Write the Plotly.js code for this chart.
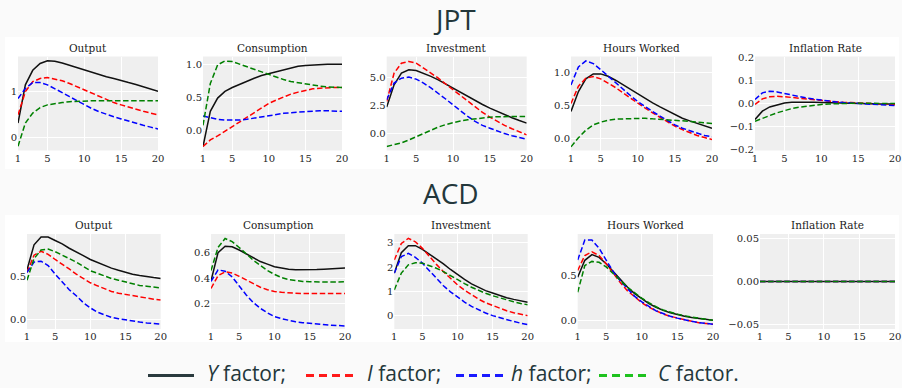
<!DOCTYPE html>
<html><head><meta charset="utf-8">
<script src="https://cdn.plot.ly/plotly-3.0.1.min.js"></script>
<style>html,body{margin:0;padding:0;background:#fafafa}</style>
</head><body>
<div id="chart" style="width:902px;height:388px"></div>
<script>
const periods = [1,2,3,4,5,6,7,8,9,10,11,12,13,14,15,16,17,18,19,20];
const panelTitles = ['Output','Consumption','Investment','Hours Worked','Inflation Rate'];
const rowTitles = ['JPT','ACD'];
const factorNames = ['<i>Y</i> factor;','<i>I</i> factor;','<i>h</i> factor;','<i>C</i> factor.'];

// ---- JPT ----
const jptOutputY = [0.31,1.15,1.47,1.62,1.68,1.67,1.63,1.58,1.53,1.47,1.42,1.37,1.33,1.29,1.24,1.20,1.16,1.11,1.06,1.01];
const jptOutputI = [0.49,1.00,1.22,1.29,1.31,1.28,1.24,1.18,1.11,1.04,0.96,0.89,0.82,0.76,0.71,0.66,0.61,0.57,0.53,0.49];
const jptOutputH = [0.85,1.07,1.20,1.20,1.15,1.07,0.98,0.89,0.80,0.71,0.63,0.56,0.50,0.45,0.40,0.35,0.30,0.26,0.22,0.18];
const jptOutputC = [-0.20,0.31,0.53,0.65,0.71,0.74,0.76,0.78,0.79,0.79,0.80,0.80,0.80,0.80,0.80,0.80,0.80,0.80,0.80,0.80];

const jptConsY = [-0.24,0.29,0.49,0.59,0.65,0.70,0.75,0.79,0.83,0.86,0.89,0.92,0.95,0.97,0.98,0.99,1.00,1.00,1.00,1.00];
const jptConsI = [-0.24,-0.14,-0.08,-0.01,0.06,0.13,0.21,0.28,0.35,0.41,0.46,0.51,0.55,0.58,0.61,0.63,0.64,0.65,0.65,0.65];
const jptConsH = [0.22,0.19,0.17,0.16,0.155,0.16,0.17,0.19,0.20,0.22,0.24,0.26,0.27,0.28,0.29,0.30,0.30,0.30,0.29,0.29];
const jptConsC = [0.08,0.71,0.99,1.05,1.04,1.00,0.96,0.92,0.88,0.84,0.80,0.77,0.74,0.72,0.70,0.68,0.67,0.66,0.66,0.65];

const jptInvY = [2.37,4.35,5.38,5.68,5.62,5.38,5.10,4.79,4.42,4.05,3.68,3.31,2.95,2.60,2.28,1.98,1.70,1.43,1.18,0.95];
const jptInvI = [2.87,5.38,6.27,6.42,6.27,5.83,5.40,4.94,4.42,3.90,3.38,2.87,2.38,1.90,1.48,1.10,0.75,0.45,0.17,-0.09];
const jptInvH = [3.02,4.50,4.94,5.03,4.85,4.50,4.07,3.60,3.09,2.57,2.05,1.54,1.10,0.75,0.50,0.25,0.02,-0.17,-0.33,-0.47];
const jptInvC = [-1.12,-0.98,-0.80,-0.55,-0.27,0.05,0.35,0.60,0.82,1.00,1.14,1.25,1.34,1.42,1.48,1.52,1.54,1.55,1.55,1.54];

const jptHoursY = [0.41,0.71,0.90,0.975,0.975,0.94,0.88,0.81,0.745,0.68,0.61,0.54,0.48,0.42,0.36,0.31,0.27,0.23,0.19,0.16];
const jptHoursI = [0.53,0.79,0.91,0.935,0.90,0.84,0.77,0.69,0.61,0.54,0.46,0.39,0.32,0.25,0.19,0.14,0.09,0.05,0.02,-0.01];
const jptHoursH = [0.81,1.08,1.17,1.13,1.04,0.94,0.84,0.74,0.65,0.56,0.48,0.41,0.34,0.27,0.21,0.16,0.12,0.08,0.05,0.03];
const jptHoursC = [-0.12,0.015,0.13,0.21,0.25,0.28,0.295,0.30,0.31,0.31,0.31,0.30,0.295,0.29,0.28,0.27,0.26,0.25,0.24,0.23];

const jptInflY = [-0.069,-0.033,-0.015,-0.005,0.002,0.005,0.006,0.006,0.005,0.004,0.003,0.002,0.001,0.0,0.0,-0.001,-0.001,-0.002,-0.002,-0.002];
const jptInflI = [-0.004,0.020,0.029,0.031,0.029,0.026,0.021,0.017,0.015,0.013,0.010,0.007,0.005,0.004,0.003,0.001,-0.001,-0.003,-0.004,-0.005];
const jptInflH = [0.017,0.046,0.053,0.050,0.043,0.036,0.030,0.024,0.019,0.014,0.010,0.007,0.004,0.002,0.0,-0.002,-0.004,-0.006,-0.008,-0.009];
const jptInflC = [-0.077,-0.066,-0.052,-0.040,-0.030,-0.022,-0.016,-0.011,-0.007,-0.004,-0.002,0.0,0.001,0.001,0.001,0.001,0.0,0.0,0.0,0.0];

// ---- ACD ----
const acdOutputY = [0.58,0.87,0.96,0.96,0.92,0.88,0.83,0.79,0.745,0.70,0.665,0.63,0.60,0.575,0.55,0.53,0.515,0.50,0.49,0.48];
const acdOutputI = [0.55,0.75,0.795,0.76,0.70,0.65,0.59,0.53,0.48,0.43,0.395,0.36,0.33,0.31,0.295,0.28,0.265,0.25,0.24,0.23];
const acdOutputH = [0.55,0.67,0.68,0.63,0.53,0.44,0.35,0.28,0.20,0.14,0.09,0.06,0.03,0.015,0.0,-0.015,-0.025,-0.035,-0.045,-0.05];
const acdOutputC = [0.46,0.71,0.81,0.82,0.79,0.75,0.71,0.67,0.62,0.57,0.54,0.51,0.48,0.46,0.44,0.42,0.40,0.39,0.38,0.37];

const acdConsY = [0.38,0.60,0.65,0.645,0.62,0.59,0.56,0.53,0.51,0.49,0.48,0.47,0.467,0.466,0.467,0.469,0.471,0.474,0.477,0.48];
const acdConsI = [0.32,0.42,0.45,0.44,0.415,0.385,0.355,0.33,0.31,0.297,0.29,0.285,0.282,0.28,0.28,0.28,0.28,0.28,0.28,0.28];
const acdConsH = [0.375,0.465,0.455,0.41,0.34,0.27,0.21,0.165,0.13,0.10,0.085,0.07,0.06,0.053,0.047,0.042,0.038,0.034,0.031,0.028];
const acdConsC = [0.46,0.64,0.71,0.685,0.64,0.59,0.54,0.50,0.46,0.43,0.405,0.39,0.38,0.375,0.372,0.37,0.37,0.37,0.37,0.372];

const acdInvY = [1.75,2.59,2.88,2.88,2.73,2.54,2.33,2.13,1.90,1.68,1.49,1.31,1.16,1.03,0.93,0.83,0.74,0.67,0.60,0.55];
const acdInvI = [2.29,2.97,3.18,3.04,2.77,2.43,2.11,1.81,1.53,1.27,1.05,0.86,0.68,0.53,0.41,0.30,0.20,0.12,0.05,0.0];
const acdInvH = [1.75,2.43,2.56,2.40,2.16,1.85,1.53,1.23,0.98,0.76,0.56,0.38,0.24,0.11,0.0,-0.09,-0.17,-0.24,-0.31,-0.37];
const acdInvC = [1.06,1.75,2.09,2.18,2.16,2.06,1.95,1.81,1.64,1.47,1.32,1.17,1.04,0.92,0.82,0.73,0.64,0.57,0.50,0.45];

const acdHoursY = [0.48,0.667,0.73,0.70,0.63,0.54,0.45,0.37,0.30,0.24,0.19,0.15,0.115,0.09,0.067,0.05,0.036,0.025,0.015,0.007];
const acdHoursI = [0.555,0.72,0.76,0.72,0.63,0.52,0.42,0.33,0.26,0.20,0.15,0.11,0.075,0.05,0.03,0.01,-0.005,-0.02,-0.03,-0.037];
const acdHoursH = [0.67,0.89,0.89,0.80,0.67,0.54,0.44,0.35,0.27,0.21,0.155,0.11,0.08,0.05,0.03,0.01,-0.005,-0.02,-0.03,-0.037];
const acdHoursC = [0.315,0.61,0.655,0.645,0.595,0.525,0.445,0.37,0.305,0.25,0.20,0.155,0.12,0.095,0.074,0.055,0.04,0.028,0.017,0.007];

const acdInflY = [0,0,0,0,0,0,0,0,0,0,0,0,0,0,0,0,0,0,0,0];
const acdInflI = [0,0,0,0,0,0,0,0,0,0,0,0,0,0,0,0,0,0,0,0];
const acdInflH = [0,0,0,0,0,0,0,0,0,0,0,0,0,0,0,0,0,0,0,0];
const acdInflC = [0,0,0,0,0,0,0,0,0,0,0,0,0,0,0,0,0,0,0,0];

const xTicks = [1,5,10,15,20];

// axis settings per panel (range, ticks)
const panels = [
  {s:[jptOutputY,jptOutputI,jptOutputH,jptOutputC], yr:[-0.294,1.774], yt:[0,1], ytt:['0','1']},
  {s:[jptConsY,jptConsI,jptConsH,jptConsC], yr:[-0.30,1.117], yt:[0,0.5,1], ytt:['0.0','0.5','1.0']},
  {s:[jptInvY,jptInvI,jptInvH,jptInvC], yr:[-1.48,6.86], yt:[0,2.5,5], ytt:['0.0','2.5','5.0']},
  {s:[jptHoursY,jptHoursI,jptHoursH,jptHoursC], yr:[-0.175,1.236], yt:[0,0.5,1], ytt:['0.0','0.5','1.0']},
  {s:[jptInflY,jptInflI,jptInflH,jptInflC], yr:[-0.203,0.203], yt:[-0.2,-0.1,0,0.1,0.2], ytt:['\u22120.2','\u22120.1','0.0','0.1','0.2']},
  {s:[acdOutputY,acdOutputI,acdOutputH,acdOutputC], yr:[-0.105,0.995], yt:[0,0.5], ytt:['0.0','0.5']},
  {s:[acdConsY,acdConsI,acdConsH,acdConsC], yr:[0.004,0.745], yt:[0.2,0.4,0.6], ytt:['0.2','0.4','0.6']},
  {s:[acdInvY,acdInvI,acdInvH,acdInvC], yr:[-0.55,3.36], yt:[0,1,2,3], ytt:['0','1','2','3']},
  {s:[acdHoursY,acdHoursI,acdHoursH,acdHoursC], yr:[-0.09,0.957], yt:[0,0.5], ytt:['0.0','0.5']},
  {s:[acdInflY,acdInflI,acdInflH,acdInflC], yr:[-0.055,0.055], yt:[-0.05,0,0.05], ytt:['\u22120.05','0.00','0.05']}
];

// pixel boxes of each subplot (layout)
const W = 902, H = 388;
const xBoxes = [[18,158],[203,342],[386.7,526.7],[571,712],[755,895],
                [27,160.7],[211,345],[394.3,527.7],[577.7,713],[760,895]];
const yBoxes = [[56.5,150.5],[234,329]];

const lineColors = ['#111111','#ff0000','#0000ff','#008000'];
const lineDash = ['solid','5.5px,2.6px','5.5px,2.6px','5.5px,2.6px'];
const legendColors = ['#2a3a3e','#ff1a1a','#1a1aff','#1ec21e'];
const legendDash = ['solid','8px,5px','8px,5px','8px,5px'];
// legend layout (pixel positions of key lines and labels)
const legendKeys = [[148,194],[306,354],[456,503],[599,646]];
const legendTextX = [206,366,510,657];
const legendKeyY = 375.5;
const legendTextY = 372.5;

const traces = [];
const layout = {
  width: W, height: H,
  margin: {l:0,r:0,t:0,b:0},
  paper_bgcolor: '#ffffff',
  plot_bgcolor: '#efefef',
  showlegend: false,
  annotations: [],
  shapes: []
};

const tickFont = {family:'DejaVu Serif, serif', size:10, color:'#262626'};

panels.forEach((p, i) => {
  const n = i + 1;
  const xa = 'xaxis' + (n===1 ? '' : n), ya = 'yaxis' + (n===1 ? '' : n);
  const xr = 'x' + (n===1 ? '' : n), yr = 'y' + (n===1 ? '' : n);
  const row = i < 5 ? 0 : 1;
  const xb = xBoxes[i], yb = yBoxes[row];
  layout[xa] = {domain:[xb[0]/W, xb[1]/W], anchor: yr, range:[1,20], tickvals:xTicks,
    ticktext: xTicks.map(String), showgrid:true, gridcolor:'#ffffff', gridwidth:1,
    zeroline:false, showline:false, ticks:'', tickfont:tickFont, fixedrange:true};
  layout[ya] = {domain:[1-yb[1]/H, 1-yb[0]/H], anchor: xr, range:p.yr, tickvals:p.yt,
    ticktext:p.ytt, showgrid:true, gridcolor:'#ffffff', gridwidth:1,
    zeroline:false, showline:false, ticks:'', tickfont:tickFont, fixedrange:true};
  p.s.forEach((ys, k) => {
    traces.push({x:periods, y:ys, xaxis:xr, yaxis:yr, type:'scatter', mode:'lines',
      name: factorNames[k], line:{color:lineColors[k], width:1.5, dash:lineDash[k]},
      showlegend:false, hoverinfo:'skip'});
  });
  layout.annotations.push({text: panelTitles[i % 5], xref: xr + ' domain', yref: yr + ' domain',
    x:0.5, y:1, xanchor:'center', yanchor:'bottom', yshift:1, showarrow:false,
    font:{family:'DejaVu Serif, serif', size:10.5, color:'#1a1a1a'}});
});

// legend: key lines + labels
factorNames.forEach((name, k) => {
  layout.shapes.push({type:'line', xref:'paper', yref:'paper',
    x0:legendKeys[k][0]/W, x1:legendKeys[k][1]/W, y0:1-legendKeyY/H, y1:1-legendKeyY/H,
    line:{color:legendColors[k], width:3, dash:legendDash[k]}});
  layout.annotations.push({text:name, xref:'paper', yref:'paper', x:legendTextX[k]/W, y:1-legendTextY/H,
    xanchor:'left', yanchor:'middle', showarrow:false, borderpad:0,
    font:{family:'Open Sans, sans-serif', size:21, color:'#23373b'}});
});

// row titles
layout.annotations.push({text:rowTitles[0], xref:'paper', yref:'paper', x:454/W, y:1-18.5/H,
  xanchor:'center', yanchor:'middle', showarrow:false,
  font:{family:'Open Sans, sans-serif', size:28, color:'#23373b'}});
layout.annotations.push({text:rowTitles[1], xref:'paper', yref:'paper', x:451/W, y:1-193/H,
  xanchor:'center', yanchor:'middle', showarrow:false,
  font:{family:'Open Sans, sans-serif', size:28, color:'#23373b'}});

// slide background (light grey) around the white figure rows
const slideGrey = '#fafafa';
[[0,0,W,37],[0,169,W,215],[0,342,W,H],[0,0,5,H],[899,0,W,H]].forEach(r => {
  layout.shapes.push({type:'rect', xref:'paper', yref:'paper', x0:r[0]/W, x1:r[2]/W,
    y0:1-r[3]/H, y1:1-r[1]/H, fillcolor:slideGrey, line:{width:0}, layer:'below'});
});

Plotly.newPlot('chart', traces, layout, {displayModeBar:false, staticPlot:true});
</script>
</body></html>
